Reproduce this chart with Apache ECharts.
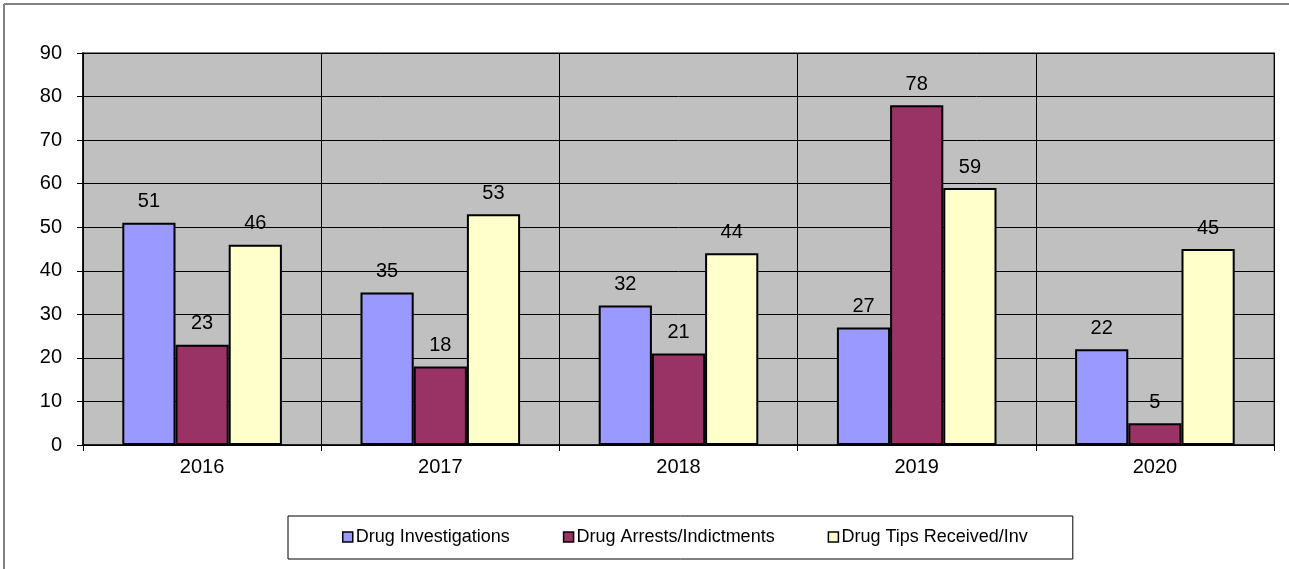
<!DOCTYPE html>
<html>
<head>
    <meta charset="utf-8">
    <title>Drug statistics</title>
    <style>
    html, body { margin: 0; padding: 0; background: #fff; }
    #main { width: 1289px; height: 569px; }
    </style>
    <script type="text/javascript" src="https://cdn.jsdelivr.net/npm/echarts@6/dist/echarts.min.js"></script>
</head>
<body>
    <div id="main"></div>
    <script>
    var years = ['2016', '2017', '2018', '2019', '2020'];
    var investigations = [51, 35, 32, 27, 22];
    var arrests = [23, 18, 21, 78, 5];
    var tips = [46, 53, 44, 59, 45];

    var font = 'Liberation Sans, Arial, sans-serif';

    function barSeries(name, color, values) {
        return {
            name: name,
            type: 'bar',
            data: values,
            barGap: '0%',
            barCategoryGap: '33%',
            itemStyle: {
                color: color,
                borderColor: '#000',
                borderWidth: 2
            },
            label: {
                show: true,
                position: 'top',
                distance: 11,
                color: '#000',
                fontSize: 20,
                fontFamily: font
            }
        };
    }

    var option = {
        animation: false,
        textStyle: { fontFamily: font },
        grid: {
            left: 83,
            right: 15,
            top: 53,
            bottom: 124,
            show: true,
            backgroundColor: '#C0C0C0',
            borderColor: '#808080',
            borderWidth: 2
        },
        // outer chart frame: only top and left edges are visible
        graphic: [
            { type: 'line', shape: { x1: 4, y1: 4, x2: 1289, y2: 4 }, style: { stroke: '#808080', lineWidth: 2 } },
            { type: 'line', shape: { x1: 4, y1: 4, x2: 4, y2: 569 }, style: { stroke: '#808080', lineWidth: 2 } }
        ],
        legend: {
            left: 288,
            top: 516,
            padding: [12, 45, 13, 54],
            itemGap: 53,
            itemWidth: 10,
            itemHeight: 10,
            icon: 'rect',
            borderColor: '#000',
            borderWidth: 1,
            itemStyle: { borderColor: '#000', borderWidth: 1.5 },
            textStyle: { color: '#000', fontSize: 18, fontFamily: font, padding: [0, 0, 0, -2] }
        },
        xAxis: {
            type: 'category',
            data: years,
            axisLine: { lineStyle: { color: '#000', width: 1.5 } },
            axisTick: { show: true, length: 6, lineStyle: { color: '#000' } },
            axisLabel: { color: '#000', fontSize: 20, fontFamily: font, margin: 12 },
            splitLine: { show: true, lineStyle: { color: '#000', width: 1 } }
        },
        yAxis: {
            type: 'value',
            min: 0,
            max: 90,
            interval: 10,
            axisLine: { show: true, lineStyle: { color: '#000', width: 1.5 } },
            axisTick: { show: true, length: 6, lineStyle: { color: '#000' } },
            axisLabel: { color: '#000', fontSize: 20, fontFamily: font, margin: 21 },
            splitLine: { show: true, lineStyle: { color: '#000', width: 1 } }
        },
        series: [
            barSeries('Drug Investigations', '#9999FF', investigations),
            barSeries('Drug Arrests/Indictments', '#993366', arrests),
            barSeries('Drug Tips Received/Inv', '#FFFFCC', tips)
        ]
    };

    var myChart = echarts.init(document.getElementById('main'));
    myChart.setOption(option);
    </script>
</body>
</html>
